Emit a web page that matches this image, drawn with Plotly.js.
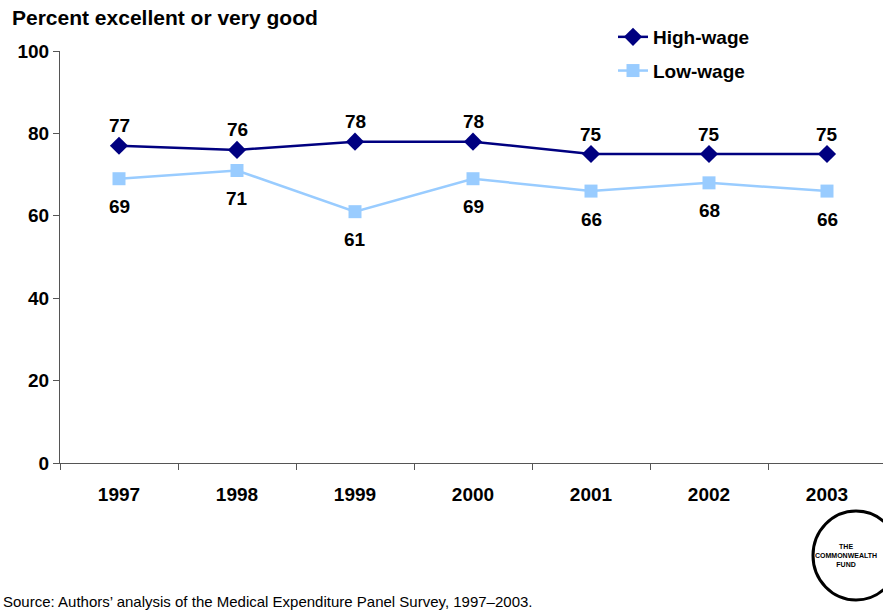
<!DOCTYPE html>
<html>
<head>
<meta charset="utf-8">
<script src="https://cdn.plot.ly/plotly-3.0.1.min.js"></script>
<style>html,body{margin:0;padding:0;background:#fff;}#chart{width:883px;height:610px;}</style>
</head>
<body>
<div id="chart"></div>
<script>
const years = ["1997","1998","1999","2000","2001","2002","2003"];
const highWage = [77, 76, 78, 78, 75, 75, 75];
const lowWage = [69, 71, 61, 69, 66, 68, 66];
const seriesNames = ["High-wage", "Low-wage"];
const yTicks = [0, 20, 40, 60, 80, 100];

const font = "Arial, 'Liberation Sans', sans-serif";
const navy = "#000080";
const light = "#99CCFF";

const traces = [
  {x: years, y: highWage, name: seriesNames[0], legendgroup: "a", type: "scatter", mode: "lines+markers",
   line: {color: navy, width: 2.5}, marker: {symbol: "diamond", size: 14, color: navy}},
  {x: years, y: lowWage, name: seriesNames[1], legendgroup: "b", type: "scatter", mode: "lines+markers",
   line: {color: light, width: 2.5}, marker: {symbol: "square", size: 13, color: light}}
];

const annotations = [];
years.forEach((yr, i) => {
  annotations.push({xref: "x", yref: "y", x: i, y: highWage[i], text: String(highWage[i]), showarrow: false,
    yshift: 20, font: {family: font, size: 19, color: "#000", weight: "bold"}});
  annotations.push({xref: "x", yref: "y", x: i, y: lowWage[i], text: String(lowWage[i]), showarrow: false,
    yshift: -28, font: {family: font, size: 19, color: "#000", weight: "bold"}});
});
annotations.push({xref: "paper", yref: "paper", x: -50 / 823, y: (463 - 17) / 412, xanchor: "left", yanchor: "middle",
  text: "Percent excellent or very good", showarrow: false,
  font: {family: font, size: 21, color: "#000", weight: "bold"}});
annotations.push({xref: "paper", yref: "paper", x: (1 - 60) / 823, y: -(601 - 463) / 412, xanchor: "left", yanchor: "middle",
  text: "Source: Authors\u2019 analysis of the Medical Expenditure Panel Survey, 1997\u20132003.", showarrow: false,
  font: {family: font, size: 15, color: "#000"}});
annotations.push({xref: "paper", yref: "paper", x: (846 - 60) / 823, y: -(555 - 463) / 412, xanchor: "center", yanchor: "middle",
  text: "THE<br>COMMONWEALTH<br>FUND", showarrow: false, align: "center",
  font: {family: font, size: 7, color: "#000", weight: "bold"}});

const layout = {
  width: 883, height: 610,
  margin: {l: 60, r: 0, t: 51, b: 147},
  paper_bgcolor: "#fff", plot_bgcolor: "#fff",
  showlegend: true,
  legend: {x: (613 - 60) / 823, y: (463 - 18) / 412, xanchor: "left", yanchor: "top",
    font: {family: font, size: 19, color: "#000", weight: "bold"}, tracegroupgap: 6,
    bgcolor: "rgba(0,0,0,0)"},
  xaxis: {type: "category", range: [-0.5, -0.5 + 823 / 118], showline: true, linecolor: "#555", linewidth: 1,
    ticks: "outside", tickson: "boundaries", ticklen: 6, tickcolor: "#555", showgrid: false, zeroline: false,
    ticklabelstandoff: 14,
    tickfont: {family: font, size: 19, color: "#000", weight: "bold"}},
  yaxis: {range: [0, 100], tickvals: yTicks, showline: true, linecolor: "#555", linewidth: 1,
    ticks: "outside", ticklen: 6, tickcolor: "#555", showgrid: false, zeroline: false,
    tickfont: {family: font, size: 19, color: "#000", weight: "bold"}},
  annotations: annotations,
  shapes: [{type: "circle", xref: "paper", yref: "paper",
    x0: (813 - 60) / 823, x1: (899 - 60) / 823, y0: -(600 - 463) / 412, y1: -(511 - 463) / 412,
    line: {color: "#000", width: 3}}]
};

Plotly.newPlot("chart", traces, layout, {displayModeBar: false});
</script>
</body>
</html>
